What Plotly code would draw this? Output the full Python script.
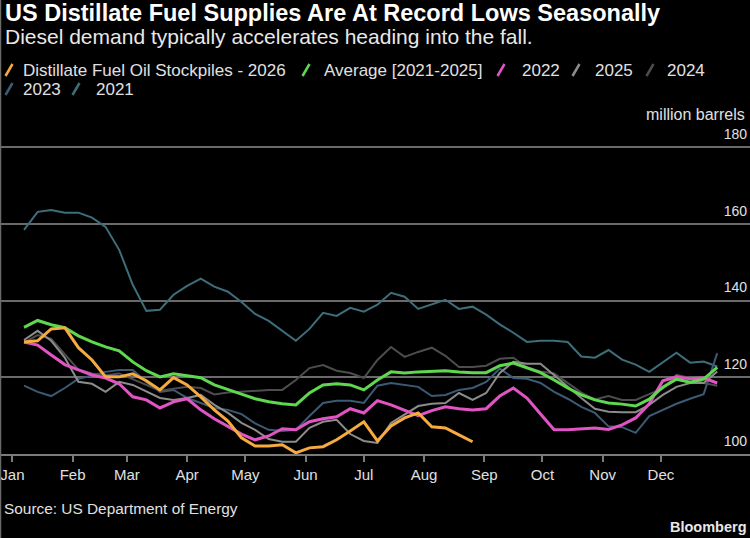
import pandas as pd
import plotly.graph_objects as go

# ---------------- data ----------------
weeks = pd.date_range("2021-01-07", periods=52, freq="7D")
month_ticks = pd.date_range("2021-01-01", periods=12, freq="MS")
month_labels = ["Jan", "Feb", "Mar", "Apr", "May", "Jun",
                "Jul", "Aug", "Sep", "Oct", "Nov", "Dec"]
y_ticks = [100, 120, 140, 160, 180]

stock_2026 = [129.2, 129.5, 132.6, 132.9, 127.7, 124.5, 120.1, 120.1, 120.9,
              119.1, 116.7, 119.9, 118.0, 114.9, 111.5, 108.6, 104.2,
              102.1, 102.1, 102.4, 100.3, 101.6, 101.9, 103.7, 106.0, 108.4,
              103.4, 107.3, 109.4, 110.7, 107.1, 106.8, 105.0, 103.2]

avg_2021_2025 = [133.0, 134.8, 133.7, 132.9, 130.8, 129.2, 127.9, 126.9, 124.0,
                 121.7, 120.1, 120.9, 120.4, 119.9, 118.0, 116.7, 115.6,
                 114.4, 113.6, 113.1, 112.8, 115.9, 118.0, 118.3, 118.0, 116.7,
                 119.3, 121.4, 121.1, 121.4, 121.5, 121.7, 121.4, 121.2, 121.2, 123.0,
                 123.7, 122.4, 121.2, 119.3, 117.2, 115.4, 114.1, 113.3, 113.0,
                 112.5, 114.3, 117.4, 119.5, 118.7, 119.5, 122.6]

stock_2022 = [129.2, 128.4, 125.8, 123.3, 121.9, 120.6, 119.8, 118.3, 114.9,
              114.1, 112.0, 113.6, 114.4, 111.5, 109.2, 107.1, 105.2,
              103.7, 104.7, 106.6, 106.3, 108.4, 109.2, 109.7, 111.8, 110.7,
              113.9, 112.8, 111.3, 110.0, 111.3, 112.3, 111.8, 111.5, 111.8, 115.1,
              117.2, 114.6, 110.4, 106.3, 106.3, 106.5, 106.8, 106.4, 107.6,
              109.4, 113.1, 119.1, 120.1, 119.6, 119.8, 118.5]

stock_2025 = [129.7, 132.1, 129.5, 125.1, 118.8, 118.3, 116.2, 118.8, 118.0,
              116.2, 114.6, 114.1, 114.6, 115.4, 112.8, 110.7, 108.1,
              106.3, 103.9, 103.2, 103.2, 106.8, 108.4, 108.9, 105.2, 103.4,
              102.9, 108.1, 110.4, 112.5, 113.1, 113.3, 115.9, 114.1, 115.9, 121.1,
              124.0, 123.5, 123.5, 120.5, 117.5, 114.6, 111.8, 111.0, 110.9,
              110.9, 112.8, 115.4, 117.5, 118.5, 118.5, 121.5]

stock_2024 = [129.0, 131.0, 130.0, 126.0, 122.0, 121.0, 120.5, 121.0, 119.5,
              118.0, 116.5, 117.0, 117.5, 117.2, 115.5, 116.0, 116.2,
              116.5, 116.7, 116.7, 119.3, 122.4, 123.2, 121.7, 121.1, 119.8,
              124.5, 127.9, 125.3, 126.6, 127.7, 125.6, 122.7, 122.7, 123.0, 124.8,
              125.1, 122.6, 121.5, 121.0, 118.4, 116.0, 114.2, 115.1, 114.1,
              114.1, 115.6, 117.0, 120.6, 119.8, 118.5, 117.8]

stock_2023 = [117.8, 116.2, 115.1, 117.2, 119.6, 120.4, 121.4, 121.9, 121.9,
              118.8, 116.2, 116.7, 114.6, 113.3, 112.0, 111.5, 110.4,
              108.0, 106.3, 106.0, 106.3, 109.9, 113.3, 113.9, 113.9, 113.3,
              117.8, 118.5, 118.0, 117.5, 115.1, 115.4, 116.7, 117.2, 118.8, 122.3,
              119.8, 119.6, 118.5, 116.2, 114.4, 112.3, 110.7, 107.2, 107.0,
              105.5, 109.9, 111.5, 113.1, 114.4, 115.6, 126.3]

stock_2021 = [158.4, 163.1, 163.6, 162.9, 162.9, 161.6, 159.2, 153.2, 144.1, 137.3,
              137.6, 141.5, 143.8, 145.7, 143.6, 142.3, 139.6, 136.5, 134.7, 132.1,
              129.5, 132.6, 136.8, 136.0, 138.1, 137.1, 138.9, 142.0, 141.0, 137.8,
              138.9, 140.2, 137.8, 138.4, 136.3, 133.8, 131.6, 129.2, 129.5, 129.5,
              129.2, 125.4, 125.1, 127.1, 124.6, 123.3, 121.4, 123.8, 126.4, 123.8,
              124.1, 122.8]

series_names = ["Distillate Fuel Oil Stockpiles - 2026", "Average [2021-2025]",
                "2022", "2025", "2024", "2023", "2021"]
series_values = [stock_2026, avg_2021_2025, stock_2022, stock_2025,
                 stock_2024, stock_2023, stock_2021]

# ---------------- styles ----------------
colors = ["#f6aa40", "#5fd84f", "#e055c3", "#8c8c8c", "#4d4d4d", "#3d5a74", "#3e6e7b"]
widths = [3, 3, 3, 2, 2, 2, 2]

W, H = 750, 538
# plot area: y=100 at pixel 454, y=180 at pixel 147; range extended to 186 above
L, R, T, B = 0, 0, 124, 84
PW, PH = W - L - R, H - T - B
FONT = "Liberation Sans"


def px(x):
    return (x - L) / PW


def py(y):
    return (H - B - y) / PH


fig = go.Figure()
for name, vals, col, wd in reversed(list(zip(series_names, series_values, colors, widths))):
    fig.add_trace(go.Scatter(x=weeks[:len(vals)], y=vals, mode="lines", name=name,
                             line=dict(color=col, width=wd), showlegend=False))

annotations = []
shapes = []

# title / subtitle
annotations.append(dict(text="<b>US Distillate Fuel Supplies Are At Record Lows Seasonally</b>",
                        x=px(3), y=py(13), xref="paper", yref="paper", xanchor="left",
                        yanchor="middle", showarrow=False,
                        font=dict(family=FONT, size=23.5, color="#ffffff")))
annotations.append(dict(text="Diesel demand typically accelerates heading into the fall.",
                        x=px(3), y=py(36), xref="paper", yref="paper", xanchor="left",
                        yanchor="middle", showarrow=False,
                        font=dict(family=FONT, size=21, color="#e8e8e8")))

# legend (slanted swatches + text)
legend_pos = [(9, 21, 70), (306, 322, 70), (501, 520, 70), (576, 593, 70),
              (650, 665, 70), (9, 21, 89), (76, 94, 89)]
legend_order = [0, 1, 2, 3, 4, 5, 6]
for k, (sx, tx, ly) in zip(legend_order, legend_pos):
    shapes.append(dict(type="line", xref="paper", yref="paper",
                       x0=px(sx - 3.5), y0=py(ly + 6), x1=px(sx + 3.5), y1=py(ly - 6),
                       line=dict(color=colors[k], width=2.5)))
    annotations.append(dict(text=series_names[k], x=px(tx), y=py(ly), xref="paper",
                            yref="paper", xanchor="left", yanchor="middle",
                            showarrow=False,
                            font=dict(family=FONT, size=17, color="#e0e0e0")))

annotations.append(dict(text="million barrels", x=px(747), y=py(115), xref="paper",
                        yref="paper", xanchor="right", yanchor="middle", showarrow=False,
                        font=dict(family=FONT, size=16, color="#e0e0e0")))
annotations.append(dict(text="Source: US Department of Energy", x=px(2), y=py(508),
                        xref="paper", yref="paper", xanchor="left", yanchor="middle",
                        showarrow=False, font=dict(family=FONT, size=15.4, color="#e0e0e0")))
annotations.append(dict(text="<b>Bloomberg</b>", x=px(749), y=py(527), xref="paper",
                        yref="paper", xanchor="right", yanchor="middle", showarrow=False,
                        font=dict(family=FONT, size=14.5, color="#e8e8e8")))

# left border
shapes.append(dict(type="line", xref="paper", yref="paper", x0=px(0.5), x1=px(0.5),
                   y0=py(H), y1=py(0), line=dict(color="#6a6a6a", width=1.5)))

fig.update_layout(
    width=W, height=H,
    margin=dict(l=L, r=R, t=T, b=B, pad=0),
    paper_bgcolor="#000000", plot_bgcolor="#000000",
    showlegend=False,
    annotations=annotations, shapes=shapes,
    xaxis=dict(type="date", range=["2020-12-25 15:00", "2022-01-15 21:00"],
               tickvals=month_ticks, ticktext=month_labels,
               showgrid=False, zeroline=False, showline=True, linecolor="#7a7a7a",
               linewidth=1.5, ticks="outside", ticklen=6, tickcolor="#7a7a7a",
               tickwidth=1.5,
               tickfont=dict(family=FONT, size=15, color="#e0e0e0")),
    yaxis=dict(range=[100, 186], tickvals=y_ticks, side="right",
               ticklabelposition="inside", ticklabelshift=-13,
               ticklabeloverflow="allow",
               showgrid=True, gridcolor="#6a6a6a", gridwidth=1.5, zeroline=False,
               showline=False, ticks="",
               tickfont=dict(family=FONT, size=14, color="#e0e0e0")),
)

fig.write_html("out.html", config={"displayModeBar": False},
               post_script="document.body.style.margin='0';"
                           "document.body.style.overflow='hidden';"
                           "document.body.style.background='#000';")
